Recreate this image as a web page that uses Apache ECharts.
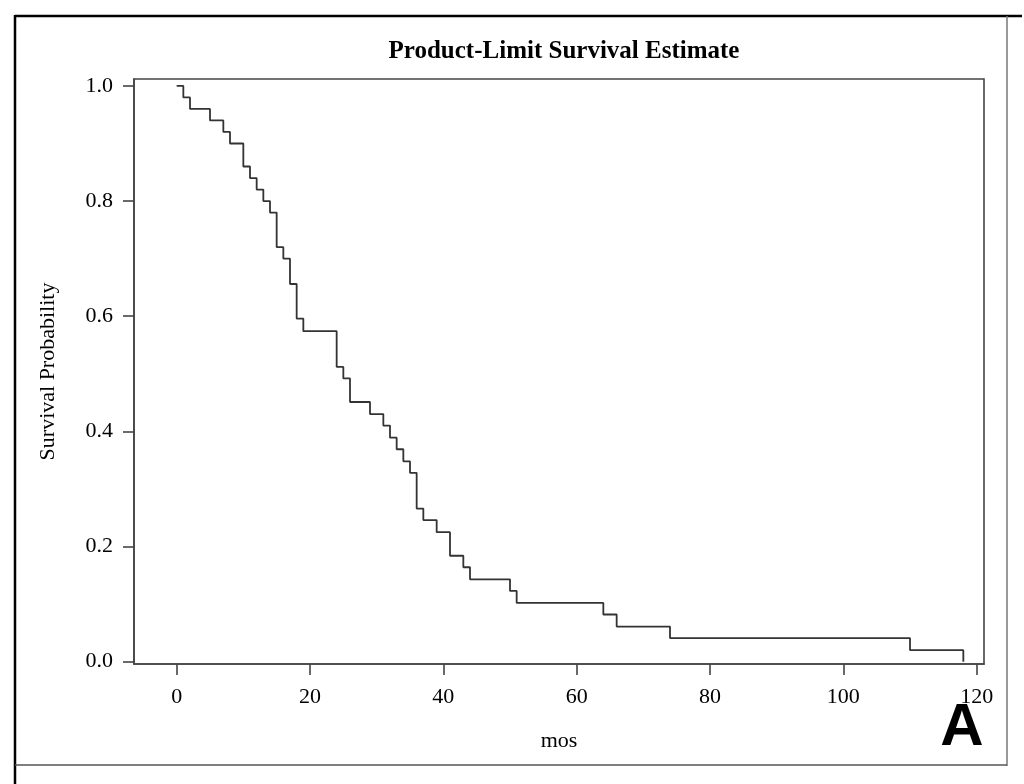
<!DOCTYPE html>
<html>
<head>
<meta charset="utf-8">
<script src="https://cdn.jsdelivr.net/npm/echarts@6/dist/echarts.min.js"></script>
<style>
html,body{margin:0;padding:0;background:#fff;}
#chart{width:1024px;height:784px;}
</style>
</head>
<body>
<div id="chart"></div>
<script>
// Event times (months) and Kaplan-Meier survival after each event
const times = [0, 1, 2, 5, 7, 8, 10, 11, 12, 13, 14, 15, 16, 17, 18, 19, 24, 25, 26, 29, 31, 32, 33, 34, 35, 36, 37, 39, 41, 43, 44, 50, 51, 64, 66, 74, 110, 118];
const survival = [1.0, 0.98, 0.96, 0.94, 0.92, 0.90, 0.86, 0.84, 0.82, 0.80, 0.78, 0.72, 0.70, 0.656, 0.596, 0.574, 0.512, 0.492, 0.451, 0.430, 0.410, 0.389, 0.369, 0.348, 0.328, 0.266, 0.246, 0.225, 0.184, 0.164, 0.143, 0.123, 0.102, 0.082, 0.061, 0.041, 0.020, 0.0];
const xTicks = [0, 20, 40, 60, 80, 100, 120];
const yTicks = [0.0, 0.2, 0.4, 0.6, 0.8, 1.0];

const data = times.map((t, i) => [t, survival[i]]);
const serif = '"Liberation Serif", "DejaVu Serif", serif';

const chart = echarts.init(document.getElementById('chart'), null, {renderer: 'canvas'});
chart.setOption({
  backgroundColor: '#fff',
  animation: false,
  title: {
    text: 'Product-Limit Survival Estimate',
    left: 559,
    top: 34,
    textAlign: 'center',
    textStyle: {fontFamily: serif, fontWeight: 'bold', fontSize: 25, color: '#000'}
  },
  grid: {
    left: 134, right: 40, top: 79, bottom: 120,
    show: true, borderColor: '#444', borderWidth: 1.6, backgroundColor: 'transparent'
  },
  xAxis: {
    type: 'value',
    min: -6.4, max: 121.1,
    name: 'mos',
    nameLocation: 'middle',
    nameGap: 66,
    nameTextStyle: {fontFamily: serif, fontSize: 22, color: '#000'},
    axisLine: {show: true, onZero: false, lineStyle: {color: '#444', width: 1.6}},
    axisTick: {show: true, length: 11, customValues: xTicks, lineStyle: {color: '#444', width: 1.6}},
    axisLabel: {show: true, margin: 22, customValues: xTicks, fontFamily: serif, fontSize: 22, color: '#000'},
    splitLine: {show: false}
  },
  yAxis: {
    type: 'value',
    min: -0.004, max: 1.012,
    name: 'Survival Probability',
    nameLocation: 'middle',
    nameGap: 75,
    nameRotate: 90,
    nameTextStyle: {fontFamily: serif, fontSize: 22, color: '#000'},
    axisLine: {show: true, onZero: false, lineStyle: {color: '#444', width: 1.6}},
    axisTick: {show: true, length: 11, customValues: yTicks, lineStyle: {color: '#444', width: 1.6}},
    axisLabel: {show: true, margin: 21, customValues: yTicks, fontFamily: serif, fontSize: 22, color: '#000',
      formatter: v => v.toFixed(1)},
    splitLine: {show: false}
  },
  series: [{
    type: 'line',
    step: 'end',
    data: data,
    showSymbol: false,
    symbol: 'none',
    lineStyle: {color: '#333', width: 1.8},
    silent: true
  }],
  graphic: [
    {type: 'line', shape: {x1: 15, y1: 16, x2: 1022, y2: 16}, style: {stroke: '#000', lineWidth: 2.5}},
    {type: 'line', shape: {x1: 15, y1: 15, x2: 15, y2: 784}, style: {stroke: '#000', lineWidth: 2.5}},
    {type: 'line', shape: {x1: 1007, y1: 16, x2: 1007, y2: 766}, style: {stroke: '#777', lineWidth: 1.5}},
    {type: 'line', shape: {x1: 15, y1: 765, x2: 1007, y2: 765}, style: {stroke: '#555', lineWidth: 1.5}},
    {type: 'text', x: 962, y: 728, style: {text: 'A', fontFamily: '"Liberation Sans", Arial, sans-serif', fontWeight: 'bold', fontSize: 60, fill: '#000', textAlign: 'center', textVerticalAlign: 'middle'}}
  ]
});
</script>
</body>
</html>
